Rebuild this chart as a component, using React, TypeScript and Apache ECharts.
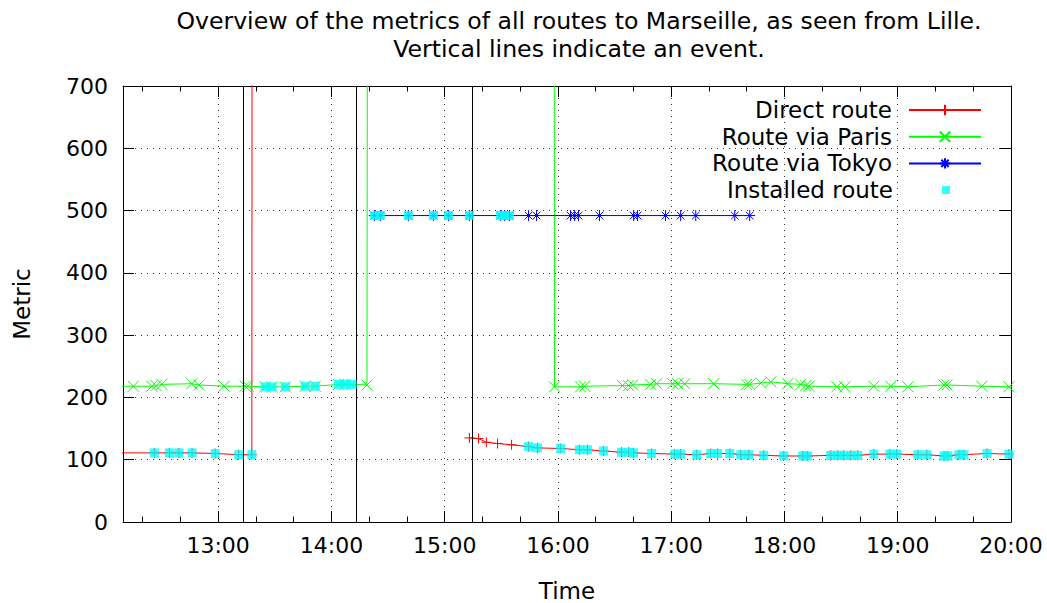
import React, { useEffect, useRef } from "react";
import * as echarts from "echarts";

// ---------- data ----------
const X_MIN = "12:09:35";
const X_MAX = "20:00";

const hourTicks = ["13:00", "14:00", "15:00", "16:00", "17:00", "18:00", "19:00", "20:00"];

const directTimes = ["12:08:00", "12:26:10", "12:34:10", "12:39:10", "12:46:10", "12:58:25", "13:10:50", "13:17:50", "13:18:00", "13:19:00",
  "15:13:05", "15:17:55", "15:22:05", "15:28:00", "15:35:25", "15:44:25", "15:49:10", "16:01:25", "16:11:25", "16:15:40",
  "16:24:10", "16:33:40", "16:37:25", "16:40:05", "16:49:35", "17:01:50", "17:05:00", "17:13:30", "17:20:55", "17:24:35",
  "17:31:00", "17:36:50", "17:41:05", "17:49:00", "17:59:35", "18:09:40", "18:12:20", "18:24:30", "18:28:15", "18:31:25",
  "18:35:05", "18:38:50", "18:47:20", "18:55:50", "18:59:30", "19:10:40", "19:15:25", "19:24:30", "19:26:35", "19:32:25",
  "19:35:05", "19:47:15", "19:58:55", "20:02:00"];
const directValues = [111, 111, 111, 111, 111, 110, 108, 108, 1000, null,
  135, 134, 128, 126, 124, 121, 119, 118, 116, 116,
  114, 112, 112, 111, 110, 109, 109, 108, 110, 110,
  110, 108, 108, 107, 106, 106, 106, 107, 107, 107,
  107, 107, 109, 109, 109, 108, 108, 106, 106, 108,
  108, 110, 109, 109];

const parisTimes = ["12:08:00", "12:15:05", "12:24:50", "12:27:07", "12:30:10", "12:46:03", "12:49:55", "13:03:11", "13:14:19", "13:15:45",
  "13:24:55", "13:28:29", "13:35:32", "13:46:08", "13:51:26", "14:03:47", "14:07:21", "14:10:54", "14:18:50", "14:19:05",
  "15:58:00", "15:58:10", "16:12:00", "16:14:05", "16:34:15", "16:37:25", "16:39:35", "16:49:05", "16:52:15", "17:00:45",
  "17:03:25", "17:07:07", "17:22:30", "17:40:00", "17:41:35", "17:47:25", "17:52:45", "18:01:45", "18:08:40", "18:11:20",
  "18:12:55", "18:27:45", "18:32:00", "18:47:20", "18:56:20", "19:05:25", "19:24:30", "19:26:05", "19:44:35", "19:58:55",
  "20:02:00"];
const parisValues = [218, 218, 218, 219, 221, 222, 220, 218, 218, 218,
  217, 217, 217, 218, 218, 221, 221, 221, 220, 1000,
  1000, 217, 217, 218, 219, 219, 220, 221, 222, 222,
  222, 222, 222, 221, 221, 223, 225, 222, 221, 219,
  218, 217, 217, 218, 218, 217, 220, 220, 218, 217,
  217];

const tokyoTimes = ["14:22:45", "14:25:55", "14:40:45", "14:54:00", "15:02:00", "15:13:05", "15:29:30", "15:31:40", "15:34:20", "15:44:25",
  "15:48:40", "16:06:40", "16:08:50", "16:10:55", "16:22:00", "16:40:05", "16:42:10", "16:57:00", "17:05:00", "17:13:00",
  "17:33:40", "17:41:35"];
const tokyoValues = [492, 492, 492, 492, 492, 492, 492, 492, 492, 492,
  492, 492, 492, 492, 492, 492, 492, 492, 492, 492,
  492, 492];

// periods during which a route was the installed one: [route, from, to]
const installedPeriods = [
  ["Direct route", "12:20", "13:17:55"],
  ["Route via Paris", "13:20", "14:18:00"],
  ["Route via Tokyo", "14:20", "15:40"],
  ["Direct route", "15:40", "20:00"],
];

const eventTimes = ["13:13:20", "14:13:20", "15:14:30"];

// ---------- helpers ----------
const toMin = (s: string) => {
  const p = s.split(":").map(Number);
  return p[0] * 60 + p[1] + (p[2] || 0) / 60;
};
const fmtTime = (v: number) => {
  const h = Math.floor(v / 60 + 1e-6);
  const m = Math.round(v - h * 60);
  return `${h}:${String(m).padStart(2, "0")}`;
};
const pairs = (t: string[], v: (number | null)[]) => t.map((s, i) => [toMin(s), v[i] == null ? "-" : v[i]]);

const FONT = "DejaVu Sans";
const PLUS = "path://M0,5L10,5M5,0L5,10";
const CROSS = "path://M0,0L10,10M10,0L0,10";
const STAR = "path://M0,5L10,5M5,0L5,10M1.5,1.5L8.5,8.5M8.5,1.5L1.5,8.5";

export default function App() {
  const ref = useRef<HTMLDivElement>(null);
  useEffect(() => {
    if (!ref.current) return;
    const chart = echarts.init(ref.current, null, { renderer: "svg" });

    const routes: Record<string, [string[], (number | null)[]]> = {
      "Direct route": [directTimes, directValues],
      "Route via Paris": [parisTimes, parisValues],
      "Route via Tokyo": [tokyoTimes, tokyoValues],
    };
    const installed: number[][] = [];
    installedPeriods.forEach(([name, from, to]) => {
      const [t, v] = routes[name];
      t.forEach((s, i) => {
        const m = toMin(s);
        if (m >= toMin(from) && m <= toMin(to) && v[i] != null) installed.push([m, v[i] as number]);
      });
    });

    const xMin = toMin(X_MIN);
    const xMax = toMin(X_MAX);
    const major = hourTicks.map(toMin);
    const minor: number[] = [];
    for (let m = Math.ceil(xMin / 20) * 20; m <= xMax; m += 20) minor.push(m);

    const black = "#000";
    const gridLine = { show: true, lineStyle: { color: "#333", width: 1, type: [1, 5] } };
    const xBase = { type: "value", min: xMin, max: xMax, gridIndex: 0 };
    const legendText = { fontFamily: FONT, fontSize: 23, color: black, lineHeight: 26 };

    const option: any = {
      animation: false,
      backgroundColor: "#fff",
      title: {
        text: "Overview of the metrics of all routes to Marseille, as seen from Lille.\nVertical lines indicate an event.",
        left: 574,
        top: 2,
        textAlign: "center",
        textStyle: { fontFamily: FONT, fontSize: 23.6, fontWeight: "normal", color: black, lineHeight: 28 },
      },
      grid: { left: 123, right: 36, top: 86, bottom: 81, containLabel: false, outerBoundsMode: "none" },
      legend: [
        {
          data: ["Direct route", "Route via Paris", "Route via Tokyo"],
          orient: "vertical", right: 65, top: 97, align: "right", padding: 0,
          itemWidth: 72, itemHeight: 13, itemGap: 0.7, selectedMode: false,
          textStyle: { ...legendText, padding: [0, 12, 0, 0] },
        },
        {
          data: ["Installed route"],
          orient: "vertical", right: 97, top: 177, align: "right", padding: 0,
          itemWidth: 8, itemHeight: 8, selectedMode: false,
          textStyle: { ...legendText, padding: [0, 44, 0, 0] },
        },
      ],
      xAxis: [
        {
          ...xBase, position: "bottom",
          name: "Time", nameLocation: "middle", nameGap: 57,
          nameTextStyle: { fontFamily: FONT, fontSize: 23, color: black },
          axisLine: { show: true, onZero: false, lineStyle: { color: black, width: 1 } },
          axisTick: { show: true, inside: true, length: 11, customValues: major, lineStyle: { color: black } },
          axisLabel: { show: true, customValues: major, formatter: (v: number) => fmtTime(v), margin: 12, fontFamily: FONT, fontSize: 22, color: black },
          splitLine: gridLine,
        },
        {
          ...xBase, position: "bottom",
          axisLine: { show: false, onZero: false },
          axisTick: { show: true, inside: true, length: 5.5, customValues: minor, lineStyle: { color: black } },
          axisLabel: { show: false }, splitLine: { show: false },
        },
        {
          ...xBase, position: "top",
          axisLine: { show: true, onZero: false, lineStyle: { color: black, width: 1 } },
          axisTick: { show: true, inside: true, length: 11, customValues: major, lineStyle: { color: black } },
          axisLabel: { show: false }, splitLine: { show: false },
        },
        {
          ...xBase, position: "top",
          axisLine: { show: false, onZero: false },
          axisTick: { show: true, inside: true, length: 5.5, customValues: minor, lineStyle: { color: black } },
          axisLabel: { show: false }, splitLine: { show: false },
        },
      ],
      yAxis: [
        {
          type: "value", min: 0, max: 700, interval: 100, position: "left",
          name: "Metric", nameLocation: "middle", nameGap: 90, nameRotate: 90,
          nameTextStyle: { fontFamily: FONT, fontSize: 23, color: black },
          axisLine: { show: true, onZero: false, lineStyle: { color: black, width: 1 } },
          axisTick: { show: true, inside: true, length: 11, lineStyle: { color: black } },
          axisLabel: { show: true, margin: 15, fontFamily: FONT, fontSize: 22, color: black },
          splitLine: gridLine,
        },
        {
          type: "value", min: 0, max: 700, interval: 100, position: "right",
          axisLine: { show: true, onZero: false, lineStyle: { color: black, width: 1 } },
          axisTick: { show: true, inside: true, length: 11, lineStyle: { color: black } },
          axisLabel: { show: false }, splitLine: { show: false },
        },
      ],
      series: [
        {
          name: "Direct route", type: "line", xAxisIndex: 0, yAxisIndex: 0,
          data: pairs(directTimes, directValues),
          symbol: PLUS, symbolSize: 10, showAllSymbol: true, connectNulls: false, clip: true,
          color: "#ff0000",
          lineStyle: { color: "#ff0000", width: 1 },
          itemStyle: { color: "#ff0000", borderColor: "#ff0000", borderWidth: 1 },
          emphasis: { disabled: true },
          markLine: {
            silent: true, symbol: "none", label: { show: false },
            lineStyle: { color: black, type: "solid", width: 1 },
            emphasis: { disabled: true },
            data: eventTimes.map((t) => ({ xAxis: toMin(t) })),
          },
        },
        {
          name: "Route via Paris", type: "line", xAxisIndex: 0, yAxisIndex: 0,
          data: pairs(parisTimes, parisValues),
          symbol: CROSS, symbolSize: 11, showAllSymbol: true, clip: true,
          color: "#00ff00",
          lineStyle: { color: "#00ff00", width: 1 },
          itemStyle: { color: "#00ff00", borderColor: "#00ff00", borderWidth: 1 },
          emphasis: { disabled: true },
        },
        {
          name: "Route via Tokyo", type: "line", xAxisIndex: 0, yAxisIndex: 0,
          data: pairs(tokyoTimes, tokyoValues),
          symbol: STAR, symbolSize: 11, showAllSymbol: true, clip: true,
          color: "#0000ff",
          lineStyle: { color: "#0000ff", width: 1 },
          itemStyle: { color: "#0000ff", borderColor: "#0000ff", borderWidth: 1 },
          emphasis: { disabled: true },
        },
        {
          name: "Installed route", type: "scatter", xAxisIndex: 0, yAxisIndex: 0,
          data: installed, symbol: "rect", symbolSize: 9, z: 5, clip: true,
          color: "#00ffff",
          itemStyle: { color: "#00ffff" },
          emphasis: { disabled: true },
        },
      ],
    };
    chart.setOption(option);
    return () => chart.dispose();
  }, []);
  return <div ref={ref} style={{ position: "absolute", left: 0, top: 0, width: 1047, height: 603 }} />;
}
